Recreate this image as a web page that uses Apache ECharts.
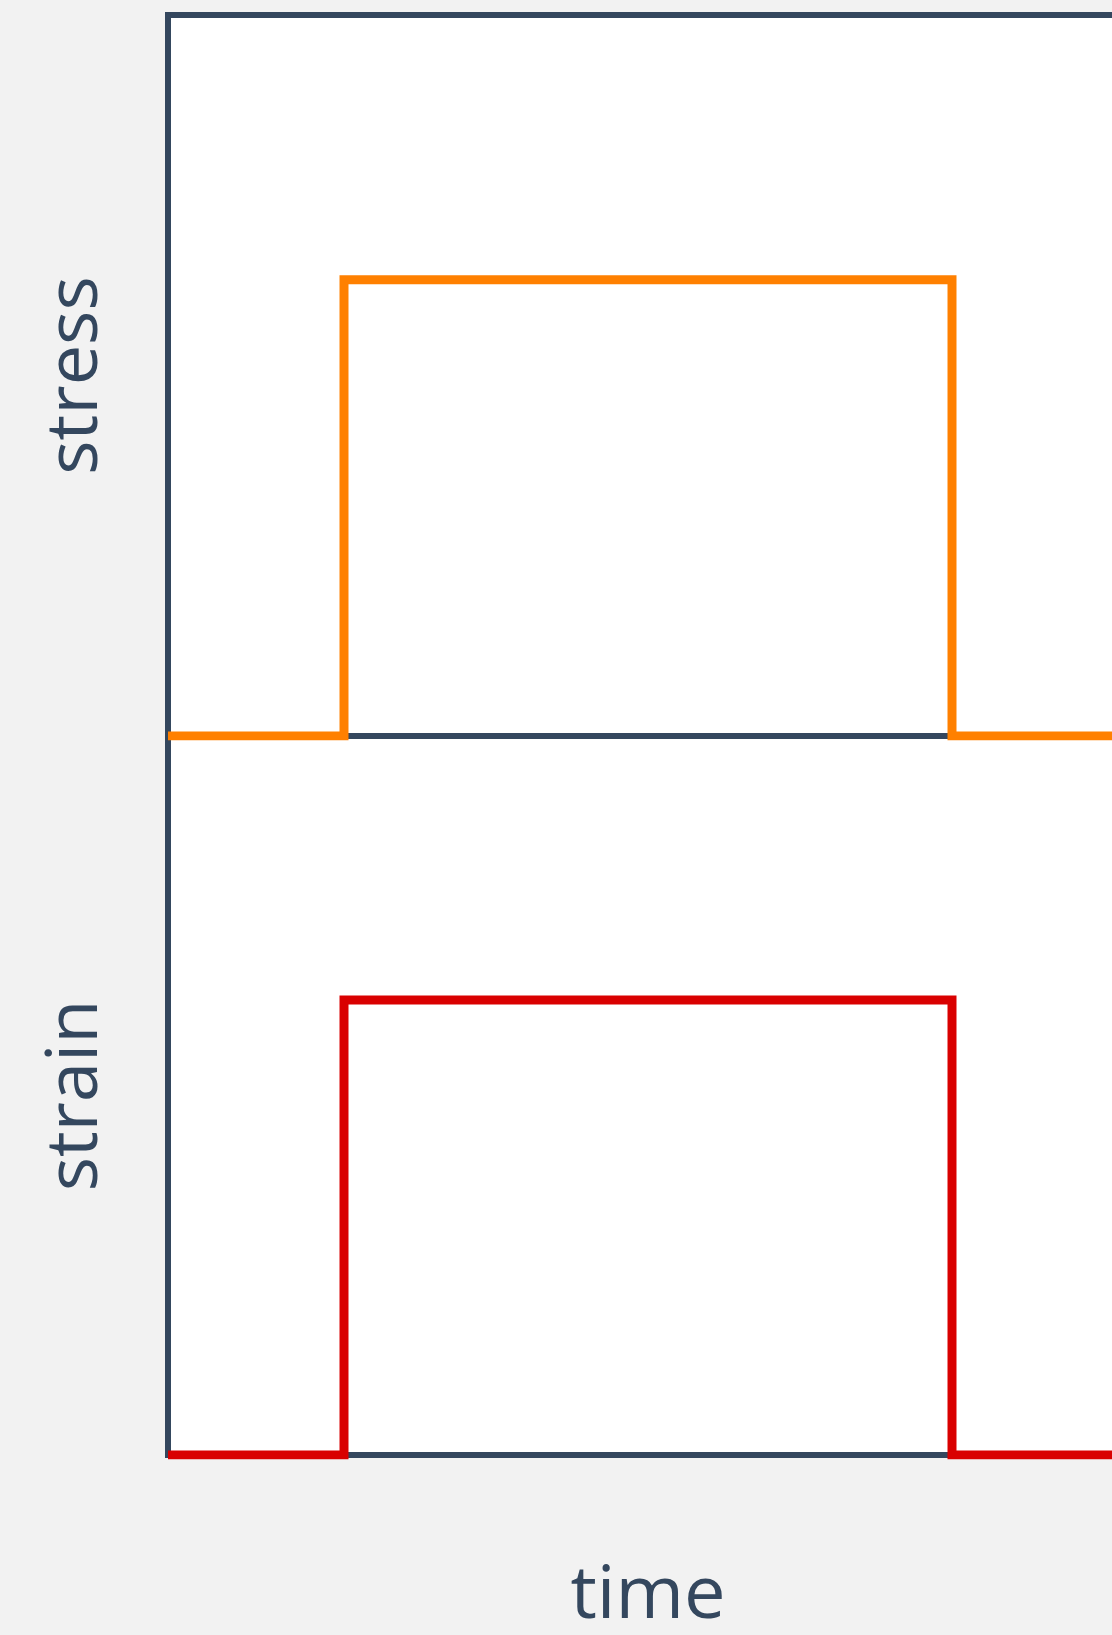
<!DOCTYPE html>
<html>
<head>
<meta charset="utf-8">
<style>
  html, body { margin: 0; padding: 0; background: #f2f2f2; }
  #chart { width: 1112px; height: 1635px; }
</style>
<script src="https://cdn.jsdelivr.net/npm/echarts@6/dist/echarts.min.js"></script>
</head>
<body>
<div id="chart"></div>
<script>
// step input: time points and the two responses
var time = [0, 1.1, 1.1, 4.9, 4.9, 6];
var stress = [0, 0, 1, 1, 0, 0];
var strain = [0, 0, 1, 1, 0, 0];

var ink = '#34475e';
var font = '"Open Sans", sans-serif';

function pairs(xs, ys) {
  var out = [];
  for (var i = 0; i < xs.length; i++) out.push([xs[i], ys[i]]);
  return out;
}

var chart = echarts.init(document.getElementById('chart'), null, { renderer: 'canvas' });

var gridBase = {
  left: 168, right: -16,
  outerBoundsMode: 'none',
  show: true, backgroundColor: '#ffffff',
  borderColor: ink, borderWidth: 6
};

function xAxisFor(idx, name) {
  return {
    type: 'value', gridIndex: idx, min: 0, max: 6,
    name: name, nameLocation: 'middle', nameGap: 105,
    nameTextStyle: { color: ink, fontSize: 74, fontFamily: font },
    axisLine: { show: true, onZero: false, lineStyle: { color: ink, width: 6 } },
    axisTick: { show: false }, axisLabel: { show: false }, splitLine: { show: false }
  };
}

function yAxisFor(idx, name) {
  return {
    type: 'value', gridIndex: idx, min: 0, max: 1.58,
    name: name, nameLocation: 'middle', nameGap: 56,
    nameTextStyle: { color: ink, fontSize: 72, fontFamily: font },
    axisLine: { show: true, lineStyle: { color: ink, width: 6 } },
    axisTick: { show: false }, axisLabel: { show: false }, splitLine: { show: false }
  };
}

chart.setOption({
  animation: false,
  backgroundColor: '#f2f2f2',
  grid: [
    Object.assign({ top: 15, height: 721 }, gridBase),
    Object.assign({ top: 736, height: 719 }, gridBase)
  ],
  xAxis: [xAxisFor(0, ''), xAxisFor(1, 'time')],
  yAxis: [yAxisFor(0, 'stress'), yAxisFor(1, 'strain')],
  series: [
    {
      name: 'stress', type: 'line', xAxisIndex: 0, yAxisIndex: 0,
      data: pairs(time, stress), showSymbol: false, z: 5,
      lineStyle: { color: '#ff8000', width: 9, join: 'miter', cap: 'butt' }
    },
    {
      name: 'strain', type: 'line', xAxisIndex: 1, yAxisIndex: 1,
      data: pairs(time, strain), showSymbol: false, z: 5,
      lineStyle: { color: '#d90000', width: 9, join: 'miter', cap: 'butt' }
    }
  ]
});
</script>
</body>
</html>
